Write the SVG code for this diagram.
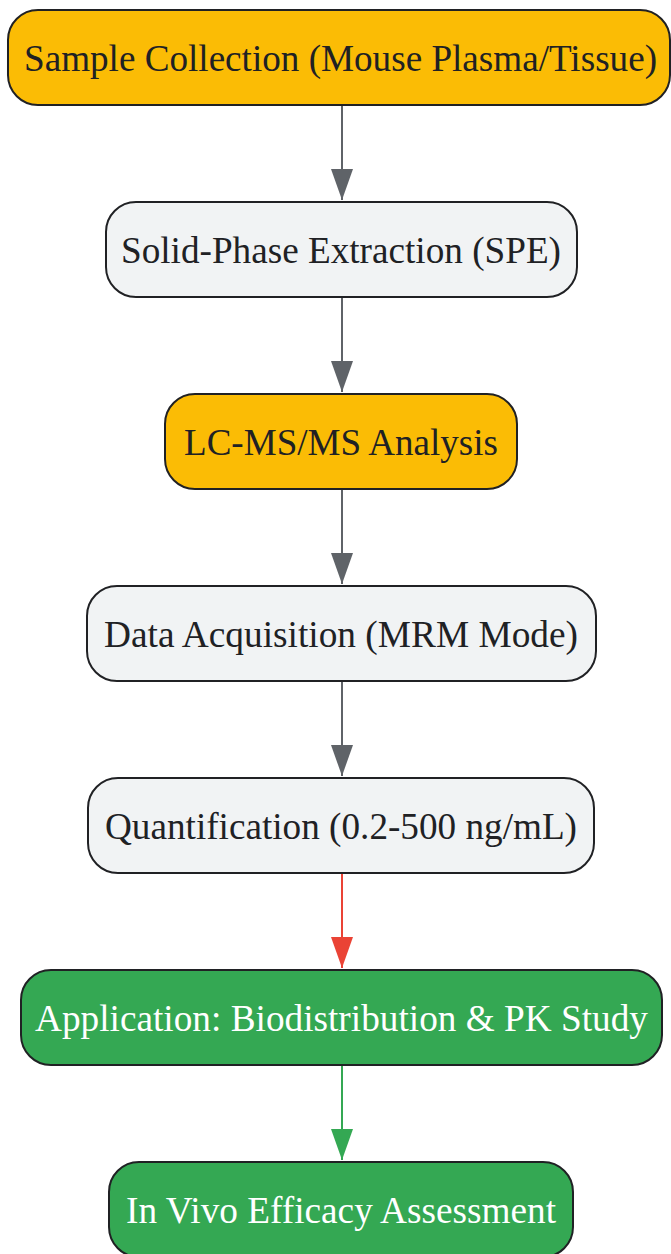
<svg xmlns="http://www.w3.org/2000/svg" width="671" height="1254" viewBox="0 0 671 1254">
<style>
.n rect{stroke:#202124;stroke-width:2}
.y rect{fill:#FBBC05}
.g rect{fill:#F1F3F4}
.gr rect{fill:#34A853}
text{font-family:"Liberation Serif","Times New Roman",serif;font-size:38px;text-anchor:middle;fill:#202124}
.gr text{fill:#ffffff}
.e{stroke-width:2;fill:none}
</style>
<defs>
<path id="ah" d="M-11,-31 L11,-31 L0,0 Z"/>
</defs>
<rect width="671" height="1254" fill="#ffffff"/>
<g id="edges">
<line class="e" x1="342" y1="106" x2="342" y2="200" stroke="#5F6368"/>
<line class="e" x1="342" y1="298" x2="342" y2="392" stroke="#5F6368"/>
<line class="e" x1="342" y1="490" x2="342" y2="584" stroke="#5F6368"/>
<line class="e" x1="342" y1="682" x2="342" y2="776" stroke="#5F6368"/>
<line class="e" x1="342" y1="874" x2="342" y2="968" stroke="#EA4335"/>
<line class="e" x1="342" y1="1066" x2="342" y2="1160" stroke="#34A853"/>
<use href="#ah" x="342" y="200" fill="#5F6368"/>
<use href="#ah" x="342" y="392" fill="#5F6368"/>
<use href="#ah" x="342" y="584" fill="#5F6368"/>
<use href="#ah" x="342" y="776" fill="#5F6368"/>
<use href="#ah" x="342" y="968" fill="#EA4335"/>
<use href="#ah" x="342" y="1160" fill="#34A853"/>
</g>
<g id="n1" class="n y"><rect x="8" y="10" width="662" height="95" rx="30"/><text x="340.5" y="70.5" textLength="633" lengthAdjust="spacingAndGlyphs">Sample Collection (Mouse Plasma/Tissue)</text></g>
<g id="n2" class="n g"><rect x="106" y="202" width="471" height="95" rx="30"/><text x="341" y="262.5" textLength="440" lengthAdjust="spacingAndGlyphs">Solid-Phase Extraction (SPE)</text></g>
<g id="n3" class="n y"><rect x="165" y="394" width="352" height="95" rx="30"/><text x="341" y="454.5" textLength="314" lengthAdjust="spacingAndGlyphs">LC-MS/MS Analysis</text></g>
<g id="n4" class="n g"><rect x="87" y="586" width="509" height="95" rx="30"/><text x="341" y="646.5" textLength="474" lengthAdjust="spacingAndGlyphs">Data Acquisition (MRM Mode)</text></g>
<g id="n5" class="n g"><rect x="88" y="778" width="506" height="95" rx="30"/><text x="341" y="838.5" textLength="472" lengthAdjust="spacingAndGlyphs">Quantification (0.2-500 ng/mL)</text></g>
<g id="n6" class="n gr"><rect x="21" y="970" width="641" height="95" rx="30"/><text x="341.5" y="1030.5" textLength="613" lengthAdjust="spacingAndGlyphs">Application: Biodistribution &amp; PK Study</text></g>
<g id="n7" class="n gr"><rect x="109" y="1162" width="464" height="95" rx="30"/><text x="341" y="1222.5" textLength="430" lengthAdjust="spacingAndGlyphs">In Vivo Efficacy Assessment</text></g>
</svg>
